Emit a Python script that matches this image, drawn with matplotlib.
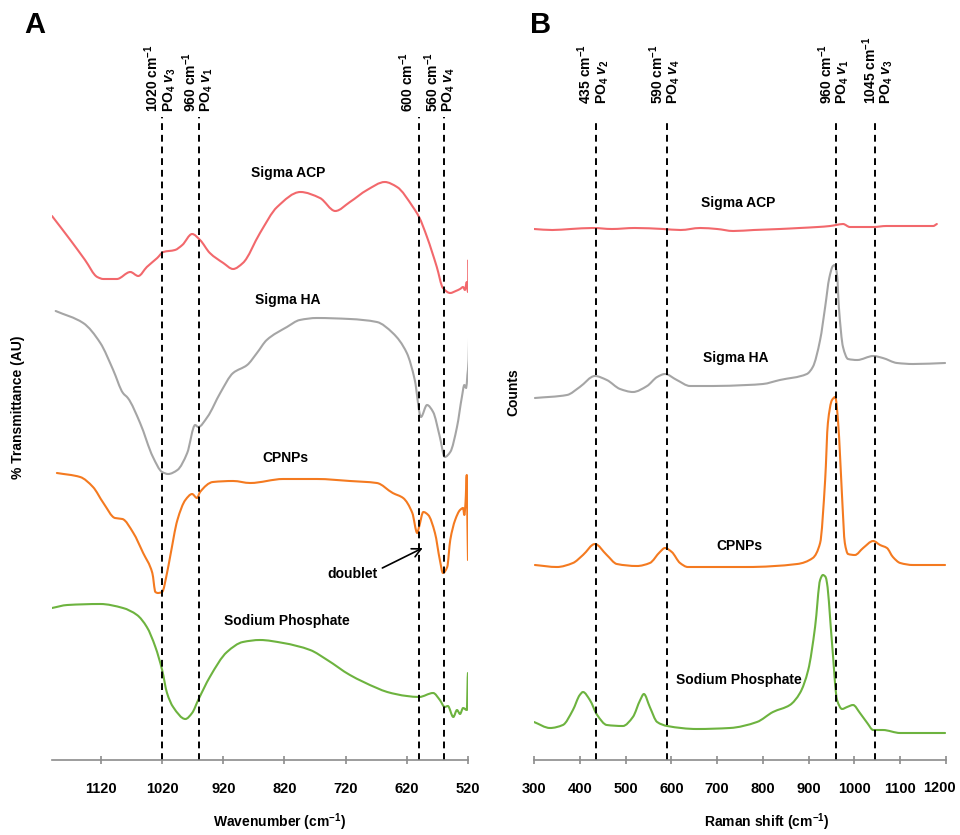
import matplotlib
matplotlib.use("Agg")
import matplotlib.pyplot as plt
import matplotlib.transforms as mtransforms
import numpy as np
from matplotlib.path import Path
from matplotlib.patches import PathPatch

plt.rcParams['font.family'] = ['Liberation Sans', 'DejaVu Sans']
plt.rcParams['font.weight'] = 'bold'
plt.rcParams['mathtext.fontset'] = 'custom'
plt.rcParams['mathtext.rm'] = 'Liberation Sans:bold'
plt.rcParams['mathtext.it'] = 'Liberation Sans:italic:bold'
plt.rcParams['mathtext.bf'] = 'Liberation Sans:bold'
plt.rcParams['mathtext.default'] = 'it'

# ---------------- Panel A : FTIR (wavenumber, % transmittance AU, offset) -------------
ftir_acp_x = [1200, 1170, 1146, 1126, 1116, 1094, 1072, 1059, 1045, 1028, 1018, 999, 987, 971,
              958, 942, 920, 904, 888, 860, 832, 794, 762, 737, 713, 685, 656, 636, 610, 600,
              587, 571, 561, 549, 540, 533, 528, 525, 522, 520, 519, 518]
ftir_acp_y = [544, 520, 500, 483, 481, 481, 488, 484, 493, 502, 508, 510, 515, 526,
              520, 507, 497, 491, 497, 527, 553, 568, 562, 549, 558, 570, 578, 573, 553, 543,
              523, 493, 472, 467, 469, 471, 473, 470, 478, 468, 500, 462]

ftir_ha_x = [1194, 1149, 1121, 1100, 1084, 1076, 1056, 1035, 1020, 1010, 995, 979, 966, 961,
             946, 925, 904, 881, 865, 849, 816, 795, 767, 713, 669, 643, 620, 607, 597, 587,
             577, 566, 558, 549, 538, 530, 526, 523, 521, 519, 518]
ftir_ha_y = [449, 437, 417, 390, 367, 362, 337, 303, 288, 286, 290, 307, 335, 333,
             343, 367, 387, 395, 407, 420, 433, 440, 442, 441, 438, 427, 407, 380, 343, 355,
             348, 323, 303, 308, 333, 363, 375, 372, 385, 400, 433]

ftir_cp_x = [1192, 1154, 1133, 1116, 1097, 1085, 1067, 1051, 1036, 1031, 1027, 1020, 1012,
             1007, 995, 982, 971, 963, 958, 937, 904, 876, 822, 767, 713, 669, 643, 626, 611,
             603, 600, 593, 585, 574, 566, 561, 554, 549, 541, 533, 528, 526, 524, 522, 521, 520]
ftir_cp_y = [287, 283, 273, 257, 242, 241, 227, 207, 187, 168, 167, 168, 187,
             203, 240, 260, 266, 262, 268, 278, 279, 277, 281, 281, 279, 277, 267, 262, 247,
             227, 233, 248, 245, 227, 200, 187, 193, 220, 240, 250, 252, 245, 258, 285, 238, 200]

ftir_na_x = [1200, 1175, 1121, 1084, 1061, 1045, 1031, 1020, 1012, 1002, 982, 971, 961, 942,
             914, 888, 860, 822, 778, 750, 713, 669, 652, 620, 600, 577, 566, 558, 553, 544,
             538, 533, 528, 522, 520, 519]
ftir_na_y = [152, 155, 156, 152, 145, 133, 113, 90, 67, 53, 41, 47, 60, 83,
             108, 118, 120, 117, 110, 100, 85, 72, 68, 64, 63, 67, 60, 53, 54, 43,
             50, 46, 52, 50, 87, 50]

ftir_lines = [1020, 960, 600, 560]
ftir_line_labels = ["1020 cm$^{-1}$\nPO$_4$ $v_3$", "960 cm$^{-1}$\nPO$_4$ $v_1$",
                    "600 cm$^{-1}$", "560 cm$^{-1}$\nPO$_4$ $v_4$"]
ftir_label_x = [1023, 962, 620, 566]
ftir_ticks = [1120, 1020, 920, 820, 720, 620, 520]

# ---------------- Panel B : Raman (shift, counts, offset) -------------
raman_acp_x = [300, 340, 380, 429, 470, 520, 582, 620, 663, 700, 735, 780, 837, 880, 920, 947,
               960, 975, 990, 1010, 1041, 1070, 1093, 1130, 1172, 1180]
raman_acp_y = [531, 530, 531, 532, 531, 532, 531, 530, 532, 531, 529, 530, 531, 532, 533, 534,
               535, 536, 533, 533, 533, 534, 534, 534, 534, 536]

raman_ha_x = [302, 372, 400, 433, 459, 488, 516, 547, 569, 586, 612, 641, 691, 765, 800, 837,
              896, 909, 925, 936, 945, 953, 957, 962, 966, 975, 986, 1006, 1041, 1062, 1093,
              1128, 1198]
raman_ha_y = [362, 365, 373, 384, 380, 371, 368, 374, 383, 386, 380, 374, 374, 375, 376, 380,
              386, 393, 420, 453, 482, 494, 495, 485, 453, 413, 401, 400, 404, 402, 397,
              396, 397]

raman_cp_x = [302, 350, 385, 407, 433, 459, 481, 525, 553, 575, 586, 601, 619, 636, 765, 875,
              909, 925, 936, 942, 951, 958, 964, 969, 973, 979, 986, 1001, 1019, 1041, 1056,
              1071, 1084, 1100, 1128, 1198]
raman_cp_y = [195, 193, 197, 205, 216, 205, 196, 194, 197, 208, 212, 208, 197, 193, 193, 196,
              202, 217, 280, 337, 360, 363, 340, 300, 263, 217, 206, 205, 212, 219, 215,
              212, 203, 197, 195, 195]

raman_na_x = [300, 335, 363, 385, 400, 407, 422, 438, 459, 494, 516, 532, 540, 553, 569, 591,
              656, 728, 787, 822, 859, 881, 899, 914, 925, 931, 937, 940, 951, 962, 973, 984,
              997, 1012, 1028, 1041, 1062, 1100, 1198]
raman_na_y = [38, 32, 35, 50, 65, 68, 60, 45, 35, 34, 43, 60, 66, 53, 38, 34,
              31, 32, 38, 48, 55, 67, 90, 133, 180, 185, 183, 177, 117, 60, 51, 53,
              55, 47, 37, 30, 30, 27, 27]

raman_lines = [435, 590, 960, 1045]
raman_line_labels = ["435 cm$^{-1}$\nPO$_4$ $v_2$", "590 cm$^{-1}$\nPO$_4$ $v_4$",
                     "960 cm$^{-1}$\nPO$_4$ $v_1$", "1045 cm$^{-1}$\nPO$_4$ $v_3$"]
raman_label_x = [429, 586, 955, 1051]
raman_ticks = [300, 400, 500, 600, 700, 800, 900, 1000, 1100, 1200]

sample_names = ["Sigma ACP", "Sigma HA", "CPNPs", "Sodium Phosphate"]
colors = ["#F2686C", "#A5A5A5", "#F47A20", "#6DB33F"]

W, H = 960, 835
fig = plt.figure(figsize=(W / 100, H / 100), dpi=100)

def fx(px):
    return px / W

def fy(py):
    return 1 - py / H


def smooth_line(ax, xs, ys, color):
    """Draw a smooth monotone (Hermite/Bezier) curve through the given points."""
    x = np.asarray(xs, float)
    y = np.asarray(ys, float)
    n = len(x)
    h = np.diff(x)
    d = np.diff(y) / h
    m = np.zeros(n)
    m[0], m[-1] = d[0], d[-1]
    for i in range(1, n - 1):
        if d[i - 1] * d[i] <= 0:
            m[i] = 0.0
        else:
            w1 = 2 * h[i] + h[i - 1]
            w2 = h[i] + 2 * h[i - 1]
            m[i] = (w1 + w2) / (w1 / d[i - 1] + w2 / d[i])
    verts = [(x[0], y[0])]
    codes = [Path.MOVETO]
    for i in range(n - 1):
        verts += [(x[i] + h[i] / 3, y[i] + m[i] * h[i] / 3),
                  (x[i + 1] - h[i] / 3, y[i + 1] - m[i + 1] * h[i] / 3),
                  (x[i + 1], y[i + 1])]
        codes += [Path.CURVE4] * 3
    ax.add_patch(PathPatch(Path(verts, codes), fill=False, edgecolor=color, lw=1.5,
                           joinstyle='round', capstyle='round'))


axA = fig.add_axes([fx(52), fy(760), fx(468) - fx(52), fy(117) - fy(760)])
axB = fig.add_axes([fx(534), fy(760), fx(946) - fx(534), fy(120) - fy(760)])

# ---- Panel A
ftir = [(ftir_acp_x, ftir_acp_y), (ftir_ha_x, ftir_ha_y), (ftir_cp_x, ftir_cp_y), (ftir_na_x, ftir_na_y)]
for (x, y), c in zip(ftir, colors):
    smooth_line(axA, x, y, c)
axA.set_xlim(1200, 520)
axA.set_ylim(0, 643)
for xv in ftir_lines:
    axA.plot([xv, xv], [0, 643], color='black', lw=1.4, ls=(0, (3.5, 2.5)), clip_on=False)
for xv, lab in zip(ftir_label_x, ftir_line_labels):
    axA.text(xv, 648, lab, rotation=90, ha='center', va='bottom', multialignment='left',
             fontsize=10, fontweight='bold', linespacing=1.0)

ftir_name_pos = [(814, 587), (814, 460), (819, 302), (816, 139)]
for (xv, yv), name in zip(ftir_name_pos, sample_names):
    axA.text(xv, yv, name, ha='center', va='center', fontsize=10, fontweight='bold')
axA.text(708, 186, "doublet", ha='center', va='center', fontsize=10, fontweight='bold')
axA.annotate("", xy=(594, 212), xytext=(660, 192),
             arrowprops=dict(arrowstyle='->', color='black', lw=1.2, shrinkA=0, shrinkB=0,
                             mutation_scale=16))
axA.set_xticks(ftir_ticks)
axA.set_xticklabels([str(t) for t in ftir_ticks])

# ---- Panel B
raman = [(raman_acp_x, raman_acp_y), (raman_ha_x, raman_ha_y), (raman_cp_x, raman_cp_y), (raman_na_x, raman_na_y)]
for (x, y), c in zip(raman, colors):
    smooth_line(axB, x, y, c)
axB.set_xlim(300, 1200)
axB.set_ylim(0, 640)
for xv in raman_lines:
    axB.plot([xv, xv], [0, 640], color='black', lw=1.4, ls=(0, (3.5, 2.5)), clip_on=False)
for xv, lab in zip(raman_label_x, raman_line_labels):
    axB.text(xv, 656, lab, rotation=90, ha='center', va='bottom', multialignment='left',
             fontsize=10, fontweight='bold', linespacing=1.0)
raman_name_pos = [(746, 557), (741, 402), (748, 214), (748, 80)]
for (xv, yv), name in zip(raman_name_pos, sample_names):
    axB.text(xv, yv, name, ha='center', va='center', fontsize=10, fontweight='bold')
axB.set_xticks(raman_ticks)
# last label drawn separately, nudged left so it stays inside the figure
axB.set_xticklabels([str(t) for t in raman_ticks[:-1]] + [""])

for ax in (axA, axB):
    for s in ('top', 'right', 'left'):
        ax.spines[s].set_visible(False)
    ax.spines['bottom'].set_color('#8C8C8C')
    ax.spines['bottom'].set_linewidth(1.2)
    ax.set_yticks([])
    ax.tick_params(axis='x', direction='inout', length=6, width=1.2, color='#8C8C8C',
                   pad=13, labelsize=10.5)
    for lbl in ax.get_xticklabels():
        lbl.set_fontweight('bold')
    ax.patch.set_alpha(0)

last_tr = mtransforms.offset_copy(
    mtransforms.blended_transform_factory(axB.transData, axB.transAxes),
    fig=fig, x=-4.5, y=-15.2, units='points')
axB.text(raman_ticks[-1], 0, str(raman_ticks[-1]), transform=last_tr, ha='center', va='top',
         fontsize=10.5, fontweight='bold', clip_on=False)

fig.text(fx(280), fy(822), "Wavenumber (cm$^{-1}$)", ha='center', va='center', fontsize=10, fontweight='bold')
fig.text(fx(767), fy(822), "Raman shift (cm$^{-1}$)", ha='center', va='center', fontsize=10, fontweight='bold')
fig.text(fx(18), fy(407), "% Transmittance (AU)", rotation=90, ha='center', va='center', fontsize=10, fontweight='bold')
fig.text(fx(513), fy(392), "Counts", rotation=90, ha='center', va='center', fontsize=10, fontweight='bold')
fig.text(fx(35), fy(25), "A", ha='center', va='center', fontsize=21, fontweight='bold')
fig.text(fx(541), fy(25), "B", ha='center', va='center', fontsize=21, fontweight='bold')

fig.savefig("out.png", dpi=100, facecolor='white')
